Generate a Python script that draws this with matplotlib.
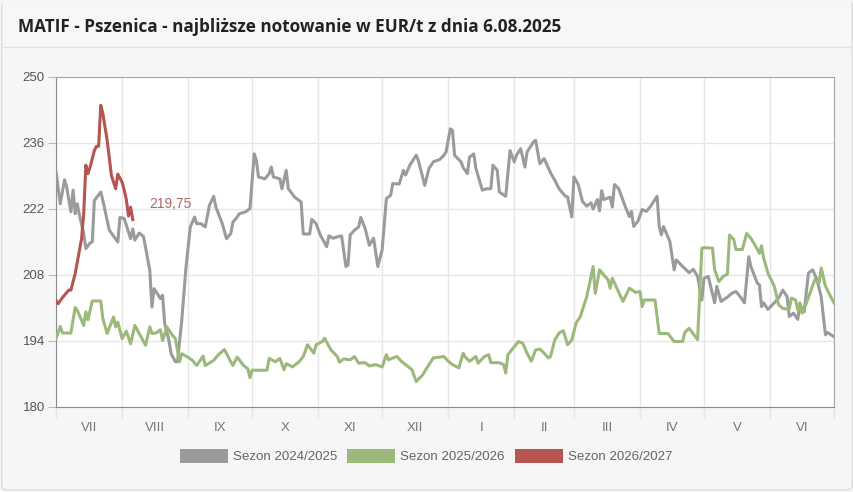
import numpy as np
import matplotlib.pyplot as plt
from matplotlib.patches import Patch, FancyBboxPatch
from matplotlib.lines import Line2D

# days counted from 1 July, price in EUR/t
gray_days = [0, 2, 4, 5, 7, 8, 9, 10, 11, 13, 14, 16, 17, 18, 21, 22, 25, 29, 30, 32,
             35, 36, 37, 39, 41, 42, 44, 45, 46, 49, 50, 51, 53, 54, 56, 57, 59, 61, 63, 65,
             66, 68, 70, 72, 74, 75, 78, 80, 82, 83, 85, 86, 89, 91, 93, 94, 95, 98, 100, 101,
             102, 105, 106, 108, 109, 112, 115, 116, 119, 120, 122, 124, 127, 128, 130, 132, 134, 136, 137, 138,
             140, 142, 143, 145, 147, 149, 151, 153, 155, 157, 158, 161, 163, 164, 166, 169, 170, 173, 175, 176,
             177, 180, 182, 183, 185, 186, 187, 190, 191, 193, 194, 196, 197, 200, 202, 204, 205, 207, 208, 211,
             213, 215, 216, 218, 220, 221, 224, 225, 227, 229, 232, 234, 236, 239, 240, 242, 243, 245, 247, 249,
             251, 252, 254, 255, 256, 257, 260, 261, 262, 264, 267, 269, 270, 271, 273, 275, 277, 279, 282, 283,
             284, 285, 288, 290, 291, 294, 297, 299, 301, 303, 304, 306, 309, 310, 312, 315, 317, 319, 321, 323,
             325, 326, 329, 330, 331, 332, 334, 337, 339, 341, 343, 344, 346, 348, 349, 351, 353, 355, 357, 359,
             360, 361, 362, 365]
gray_vals = [230.0, 223.1, 228.2, 226.7, 221.4, 226.0, 221.0, 223.1, 220.7, 216.8, 213.6, 214.8, 215.0, 223.8, 225.6, 223.8, 217.5, 215.0, 220.2, 220.0,
             215.7, 217.8, 215.4, 216.9, 216.2, 213.9, 209.0, 201.2, 205.1, 203.0, 203.7, 197.7, 194.1, 191.3, 189.6, 189.6, 198.4, 209.7, 218.2, 220.3,
             218.9, 218.9, 218.2, 222.8, 224.7, 222.4, 218.9, 215.7, 216.8, 219.2, 220.3, 221.0, 221.4, 222.1, 233.7, 232.3, 228.8, 228.4, 229.5, 230.9,
             228.8, 228.4, 226.3, 230.2, 226.3, 224.5, 223.5, 216.7, 216.7, 219.8, 218.9, 216.5, 214.0, 216.3, 215.8, 216.1, 216.3, 209.8, 210.1, 216.5,
             217.5, 218.2, 220.2, 217.9, 214.3, 215.8, 209.8, 213.3, 224.2, 224.9, 227.4, 227.3, 230.2, 229.2, 231.3, 233.4, 232.3, 227.0, 230.6, 231.3,
             232.0, 232.5, 233.4, 234.1, 239.0, 238.7, 233.4, 232.0, 230.8, 229.5, 233.0, 233.7, 230.6, 226.0, 226.3, 226.3, 231.3, 230.2, 225.6, 224.7,
             234.4, 232.0, 233.4, 234.8, 230.9, 234.1, 236.2, 236.6, 231.6, 232.7, 229.7, 228.1, 226.3, 224.7, 224.6, 220.3, 228.8, 227.2, 223.6, 222.6,
             223.3, 222.0, 224.0, 221.6, 225.9, 224.0, 224.5, 222.4, 227.2, 226.3, 222.6, 220.4, 221.5, 218.3, 219.4, 221.9, 221.5, 222.6, 224.7, 218.3,
             216.5, 218.3, 215.1, 209.1, 211.2, 209.8, 208.5, 209.2, 207.7, 202.7, 207.3, 207.7, 202.1, 205.6, 202.4, 203.3, 204.1, 204.5, 203.4, 202.1,
             211.9, 209.8, 206.3, 205.9, 201.3, 202.1, 200.7, 202.1, 203.1, 204.8, 203.4, 199.2, 199.9, 198.6, 201.7, 200.2, 208.4, 209.1, 207.0, 203.4,
             199.2, 195.3, 195.8, 194.9]

green_days = [0, 2, 3, 7, 9, 10, 13, 14, 15, 17, 21, 22, 24, 27, 28, 29, 31, 33, 35, 37,
              39, 42, 44, 45, 47, 49, 50, 52, 54, 56, 58, 59, 61, 64, 66, 69, 70, 74, 76, 79,
              82, 83, 85, 88, 90, 91, 92, 99, 100, 103, 105, 107, 108, 111, 114, 116, 118, 121, 122, 125,
              126, 129, 132, 133, 135, 138, 140, 142, 145, 147, 150, 153, 155, 156, 158, 160, 162, 164, 167, 169,
              172, 174, 177, 182, 184, 186, 189, 191, 192, 194, 197, 198, 201, 203, 204, 208, 210, 211, 212, 215,
              217, 219, 221, 223, 225, 227, 229, 231, 232, 234, 236, 238, 240, 242, 244, 246, 249, 252, 253, 255,
              257, 259, 260, 261, 262, 266, 269, 272, 274, 275, 276, 281, 283, 287, 290, 294, 295, 297, 299, 301,
              303, 304, 308, 309, 311, 313, 315, 316, 318, 319, 322, 324, 326, 329, 330, 331, 332, 334, 337, 339,
              341, 344, 345, 347, 348, 349, 350, 352, 354, 356, 358, 359, 361, 363, 365]
green_vals = [194.5, 197.1, 195.7, 195.7, 201.1, 200.5, 197.3, 200.2, 198.5, 202.5, 202.5, 198.7, 195.6, 199.1, 197.0, 198.0, 194.5, 196.1, 193.4, 197.3,
              195.6, 193.1, 197.0, 195.6, 195.7, 196.4, 194.1, 197.0, 195.6, 194.5, 189.6, 191.3, 190.8, 189.9, 188.8, 190.8, 188.8, 189.9, 191.0, 192.2,
              189.6, 188.8, 190.6, 188.8, 188.1, 186.2, 187.8, 187.8, 190.3, 189.6, 190.3, 187.9, 189.2, 188.5, 189.6, 190.7, 193.2, 191.4, 193.2, 193.9,
              194.6, 192.1, 190.7, 189.5, 190.2, 190.0, 190.7, 189.3, 189.4, 188.7, 189.0, 188.5, 191.1, 190.0, 190.4, 190.7, 189.7, 189.0, 187.9, 185.4,
              186.8, 188.3, 190.4, 190.7, 189.7, 189.0, 188.3, 191.4, 190.6, 189.7, 190.7, 189.3, 190.7, 191.1, 189.4, 189.4, 189.0, 187.2, 191.1, 192.8,
              193.9, 193.5, 191.4, 189.7, 192.1, 192.3, 191.4, 190.4, 190.7, 194.2, 195.7, 196.2, 193.2, 194.2, 197.8, 199.2, 203.4, 209.8, 204.1, 209.1,
              208.0, 207.0, 205.2, 207.3, 206.3, 202.4, 205.2, 204.3, 204.5, 201.3, 202.7, 202.7, 195.6, 195.6, 193.9, 193.9, 195.8, 196.7, 195.5, 194.3,
              213.7, 213.8, 213.7, 209.1, 206.6, 207.7, 208.2, 216.5, 215.5, 213.4, 213.4, 216.8, 215.8, 213.5, 212.6, 214.2, 211.6, 208.4, 205.6, 201.7,
              200.9, 200.7, 203.1, 202.7, 200.6, 202.1, 199.9, 202.0, 204.5, 207.0, 206.3, 209.5, 205.6, 203.8, 202.1]

red_days = [0, 1, 3, 6, 7, 9, 12, 13, 14, 15, 16, 18, 19, 20, 21, 22, 24, 26, 28, 29,
            31, 32, 33, 34, 35, 36]
red_vals = [202.6, 201.9, 203.2, 204.8, 204.8, 208.3, 215.7, 221.0, 231.3, 229.5, 230.9, 234.4, 235.3, 235.3, 244.0, 242.2, 236.6, 229.1, 226.3, 229.4,
            227.7, 226.0, 224.0, 220.5, 222.4, 219.75]

series_names = ["Sezon 2024/2025", "Sezon 2025/2026", "Sezon 2026/2027"]
month_labels = ["VII", "VIII", "IX", "X", "XI", "XII", "I", "II", "III", "IV", "V", "VI"]
month_lengths = [31, 31, 30, 31, 30, 31, 31, 28, 31, 30, 31, 30]
y_ticks = [180, 194, 208, 222, 236, 250]
last_label = "219,75"

c_gray = "#9b9b9b"
c_green = "#9cb97c"
c_red = "#b4554f"

plt.rcParams['font.family'] = ['Liberation Sans', 'DejaVu Sans']

fig = plt.figure(figsize=(8.54, 4.92), dpi=100)
fig.patch.set_facecolor("#f5f6f8")

# card header
fig.patches.append(FancyBboxPatch((0.002, 0.004), 0.996, 0.992, boxstyle="round,pad=0,rounding_size=0.008",
                                  transform=fig.transFigure, facecolor="#f5f6f8", edgecolor="#dcdcdc", lw=1, zorder=-3))
fig.patches.append(plt.Rectangle((0.003, 1 - 47 / 492), 0.994, 46 / 492, transform=fig.transFigure,
                                 facecolor="#f7f7f7", edgecolor="none", zorder=-2))
fig.lines.append(Line2D([0.002, 0.998], [1 - 47 / 492] * 2, transform=fig.transFigure, color="#e2e2e2", lw=1))
fig.text(18 / 854, 1 - 27 / 492, "MATIF - Pszenica - najbliższe notowanie w EUR/t z dnia 6.08.2025",
         fontsize=12.3, fontweight="bold", family=["Open Sans", "DejaVu Sans"], color="#222222", va="center")

ax = fig.add_axes([56 / 854, 1 - 407 / 492, (834 - 56) / 854, (407 - 77) / 492])
ax.set_facecolor("white")

ax.plot(gray_days, gray_vals, color=c_gray, lw=2.2, solid_joinstyle="round", zorder=3)
ax.plot(green_days, green_vals, color=c_green, lw=2.2, solid_joinstyle="round", zorder=3)
ax.plot(red_days, red_vals, color=c_red, lw=2.2, solid_joinstyle="round", zorder=4)
ax.annotate(last_label, (red_days[-1], red_vals[-1]), xytext=(12, 11), textcoords="offset points",
            ha="left", va="center", fontsize=10, color="#b06864")

bounds = np.concatenate([[0], np.cumsum(month_lengths)])
mids = (bounds[:-1] + bounds[1:]) / 2
ax.set_xlim(0, 365)
ax.set_ylim(180, 250)
ax.set_xticks(mids)
ax.set_xticklabels(month_labels)
ax.set_xticks(bounds, minor=True)
ax.tick_params(axis="x", which="major", length=0, pad=11, labelsize=9.5, colors="#777777")
ax.tick_params(axis="x", which="minor", length=8, width=1, color="#e6e6e6")
ax.set_yticks(y_ticks)
ax.tick_params(axis="y", length=6, width=0.8, color="#bbbbbb", labelsize=9.5, labelcolor="#555555", pad=2)
ax.grid(True, axis="x", which="minor", color="#e6e6e6", lw=1)
ax.grid(True, axis="y", which="major", color="#e6e6e6", lw=1)
ax.set_axisbelow(True)
for side in ["left", "bottom"]:
    ax.spines[side].set_color("#8c8c8c")
for side in ["top", "right"]:
    ax.spines[side].set_color("#a8a8a8")

handles = [Patch(facecolor=c, edgecolor="none") for c in (c_gray, c_green, c_red)]
fig.legend(handles, series_names, loc="center", bbox_to_anchor=(426 / 854, 1 - 456 / 492), ncol=3,
           frameon=False, fontsize=9.6, handlelength=3.6, handleheight=1.2, handletextpad=0.38,
           columnspacing=0.75, labelcolor="#666666")

fig.savefig("out.png", dpi=100, facecolor=fig.get_facecolor())
